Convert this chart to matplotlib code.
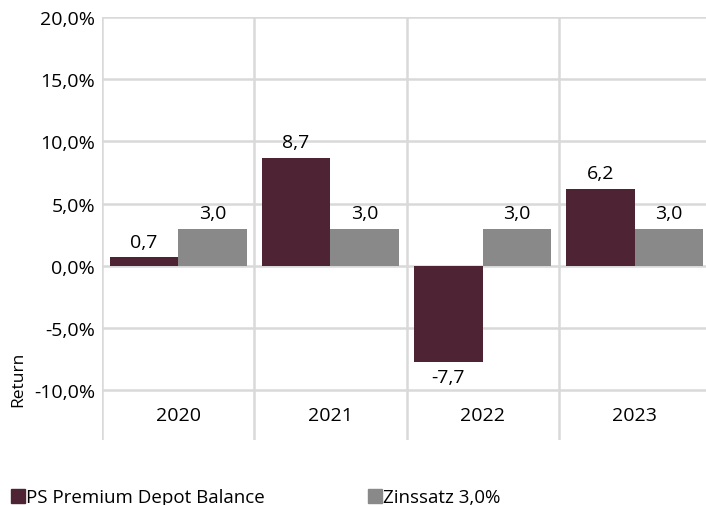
import matplotlib.pyplot as plt
import numpy as np
from matplotlib.patches import Patch

years = ["2020", "2021", "2022", "2023"]
depot = [0.7, 8.7, -7.7, 6.2]
zins = [3.0, 3.0, 3.0, 3.0]
yticks = [-10, -5, 0, 5, 10, 15, 20]

maroon = "#4e2434"
grey = "#898989"
gridc = "#d9d9d9"

plt.rcParams["font.family"] = ["Open Sans", "DejaVu Sans"]

fig = plt.figure(figsize=(7.06, 5.06), dpi=100)
W, H = 706, 506
left, right, top, bottom = 102, 711, 18, 441
ax = fig.add_axes([left / W, (H - bottom) / H, (right - left) / W, (bottom - top) / H])

x = np.arange(len(years))
w = 0.45
b1 = ax.bar(x - w / 2, depot, w, color=maroon, zorder=3)
b2 = ax.bar(x + w / 2, zins, w, color=grey, zorder=3)

ax.set_xlim(-0.5, len(years) - 0.5)
ax.set_ylim(-14, 20)
for s in ax.spines.values():
    s.set_visible(False)

for yv in yticks:
    ax.axhline(yv, color=gridc, lw=1.8, zorder=1)
for xv in np.arange(-0.5, len(years), 1.0):
    ax.axvline(xv, color=gridc, lw=1.8, zorder=1)

ax.set_yticks(yticks)
ax.set_yticklabels([f"{v:.1f}%".replace(".", ",") for v in yticks], fontsize=14)
ax.tick_params(axis="y", length=0, pad=5)
ax.set_xticks([])

for i, yr in enumerate(years):
    ax.text(i, -12, yr, ha="center", va="center", fontsize=14)

for bars in (b1, b2):
    for r in bars:
        v = r.get_height()
        cx = r.get_x() + r.get_width() / 2
        lbl = f"{v:.1f}".replace(".", ",")
        if v >= 0:
            ax.text(cx, v + 0.5, lbl, ha="center", va="bottom", fontsize=14)
        else:
            ax.text(cx, v - 0.5, lbl, ha="center", va="top", fontsize=14)

fig.text(18 / W, 1 - 379 / H, "Return", rotation=90, ha="center", va="center", fontsize=12.5)

handles = [Patch(color=maroon), Patch(color=grey)]
fig.legend(handles, ["PS Premium Depot Balance", "Zinssatz 3,0%"], loc="lower left",
           bbox_to_anchor=(0.0, -0.025), ncol=2, frameon=False, fontsize=13.5,
           handlelength=0.75, handleheight=0.75, handletextpad=0.05, columnspacing=5.5,
           borderaxespad=0.2)

fig.savefig("out.png", dpi=100)
